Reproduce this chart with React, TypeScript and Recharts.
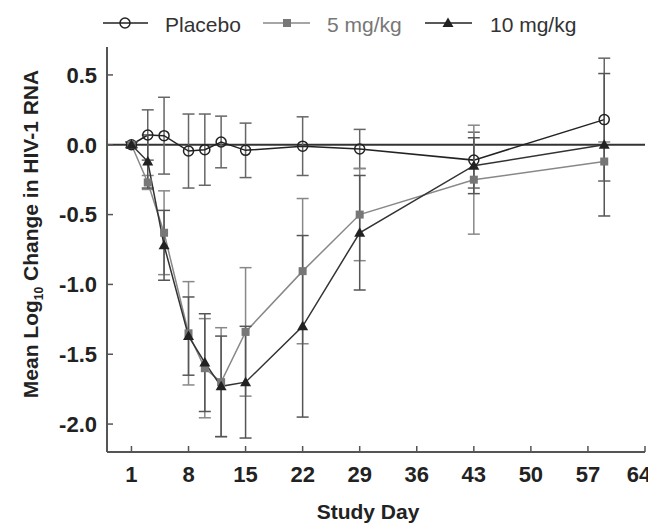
import React from 'react';
import { LineChart, Line, XAxis, YAxis, ErrorBar, ReferenceLine, Legend } from 'recharts';

const days = [1, 3, 5, 8, 10, 12, 15, 22, 29, 43, 59];
const placeboMean = [0.0, 0.07, 0.065, -0.045, -0.035, 0.02, -0.04, -0.01, -0.03, -0.11, 0.18];
const placeboErr = [0.02, 0.18, 0.275, 0.265, 0.255, 0.185, 0.195, 0.21, 0.14, 0.2, 0.44];
const mg5Mean = [0.0, -0.27, -0.63, -1.35, -1.6, -1.7, -1.34, -0.905, -0.5, -0.25, -0.12];
const mg5Err = [0.02, 0.05, 0.3, 0.37, 0.355, 0.39, 0.46, 0.52, 0.33, 0.39, 0.14];
const mg10Mean = [0.0, -0.12, -0.72, -1.37, -1.56, -1.73, -1.7, -1.3, -0.63, -0.15, 0.0];
const mg10Err = [0.02, 0.19, 0.25, 0.28, 0.35, 0.36, 0.4, 0.65, 0.41, 0.2, 0.51];
const xTicks = [1, 8, 15, 22, 29, 36, 43, 50, 57, 64];
const yTicks = [-2.0, -1.5, -1.0, -0.5, 0.0, 0.5];
const seriesNames = ['Placebo', '5 mg/kg', '10 mg/kg'];

const data = days.map((d, i) => ({
  day: d,
  p: placeboMean[i],
  pErr: placeboErr[i],
  m5: mg5Mean[i],
  m5Err: mg5Err[i],
  m10: mg10Mean[i],
  m10Err: mg10Err[i],
}));

const FONT = '"Liberation Sans", Arial, sans-serif';
const W = 648;
const H = 518;

const circleDot = (p: any) => (
  <circle key={`c-${p.index}`} cx={p.cx} cy={p.cy} r={5} fill="none" stroke="#222" strokeWidth={1.5} />
);
const squareDot = (p: any) => (
  <rect key={`s-${p.index}`} x={p.cx - 4} y={p.cy - 4} width={8} height={8} fill="#777" />
);
const triDot = (p: any) => (
  <polygon
    key={`t-${p.index}`}
    points={`${p.cx},${p.cy - 5.5} ${p.cx + 5.5},${p.cy + 4} ${p.cx - 5.5},${p.cy + 4}`}
    fill="#222"
  />
);

const renderLegend = () => (
  <div style={{ position: 'relative', height: 0 }}>
    <svg width={W} height={40} style={{ position: 'absolute', left: 0, top: 0, overflow: 'visible' }}>
      <g fontFamily={FONT} fontSize={21}>
        <line x1={95} x2={140} y1={15} y2={15} stroke="#222" strokeWidth={1.5} />
        <circle cx={117} cy={15} r={5} fill="none" stroke="#222" strokeWidth={1.5} />
        <text x={157} y={24} fill="#333">{seriesNames[0]}</text>
        <line x1={255} x2={302} y1={15} y2={15} stroke="#888" strokeWidth={1.5} />
        <rect x={275} y={11} width={8} height={8} fill="#777" />
        <text x={319} y={24} fill="#777">{seriesNames[1]}</text>
        <line x1={417} x2={464} y1={15} y2={15} stroke="#222" strokeWidth={1.5} />
        <polygon points="440,9.5 445.5,19 434.5,19" fill="#222" />
        <text x={482} y={24} fill="#333">{seriesNames[2]}</text>
      </g>
    </svg>
  </div>
);

const YLabel = () => (
  <text
    transform="rotate(-90, 30, 226)"
    x={30}
    y={226}
    textAnchor="middle"
    fontFamily={FONT}
    fontSize={21}
    fontWeight="bold"
    fill="#222"
  >
    Mean Log<tspan fontSize={12} dy={5}>10</tspan>
    <tspan dy={-5}> Change in HIV-1 RNA</tspan>
  </text>
);

const XLabel = (props: any) => {
  const vb = props.viewBox || { x: 99, y: 444, width: 538 };
  return (
    <text
      x={vb.x + vb.width / 2 - 8}
      y={vb.y + 67}
      textAnchor="middle"
      fontFamily={FONT}
      fontSize={21}
      fontWeight="bold"
      fill="#222"
    >
      Study Day
    </text>
  );
};

const XTick = (props: any) => {
  const { x, y, payload } = props;
  const isLast = payload.value === xTicks[xTicks.length - 1];
  return (
    <text
      x={isLast ? x - 6 : x}
      y={y}
      dy="0.71em"
      textAnchor="middle"
      fontFamily={FONT}
      fontSize={22}
      fontWeight="bold"
      fill="#222"
    >
      {payload.value}
    </text>
  );
};

const tickStyle = { fontFamily: FONT, fontSize: 22, fontWeight: 'bold', fill: '#222' } as any;
const frame = { stroke: '#555', strokeWidth: 2 };

export default function App() {
  return (
    <LineChart width={W} height={H} data={data} margin={{ top: 39, right: 11, left: 0, bottom: 0 }}>
      <XAxis
        dataKey="day"
        type="number"
        domain={[-2, 64]}
        ticks={xTicks}
        interval={0}
        height={74}
        tickSize={-6}
        tickMargin={20}
        tick={<XTick />}
        axisLine={frame}
        tickLine={{ stroke: '#555', strokeWidth: 1.5 }}
        label={<XLabel />}
      />
      <XAxis xAxisId="top" orientation="top" type="number" dataKey="day" domain={[-2, 64]} height={0} tick={false} tickLine={false} axisLine={frame} />
      <YAxis
        type="number"
        domain={[-2.2, 0.7]}
        ticks={yTicks}
        interval={0}
        width={99}
        tickSize={-6}
        tickMargin={16}
        tick={tickStyle}
        tickFormatter={(v: number) => v.toFixed(1)}
        axisLine={frame}
        tickLine={{ stroke: '#555', strokeWidth: 1.5 }}
        label={<YLabel />}
      />
      <YAxis yAxisId="right" orientation="right" type="number" domain={[-2.2, 0.7]} width={0} tick={false} tickLine={false} axisLine={frame} />
      <ReferenceLine y={0} stroke="#333" strokeWidth={2} />
      <Legend verticalAlign="top" align="left" content={renderLegend} wrapperStyle={{ top: 0, left: 0, width: W, height: 0 }} />
      <Line dataKey="p" stroke="#222" strokeWidth={1.5} dot={circleDot} isAnimationActive={false}>
        <ErrorBar dataKey="pErr" width={6} stroke="#666" strokeWidth={1.5} direction="y" isAnimationActive={false} />
      </Line>
      <Line dataKey="m5" stroke="#888" strokeWidth={1.5} dot={squareDot} isAnimationActive={false}>
        <ErrorBar dataKey="m5Err" width={6} stroke="#888" strokeWidth={1.5} direction="y" isAnimationActive={false} />
      </Line>
      <Line dataKey="m10" stroke="#333" strokeWidth={1.5} dot={triDot} isAnimationActive={false}>
        <ErrorBar dataKey="m10Err" width={6} stroke="#555" strokeWidth={1.5} direction="y" isAnimationActive={false} />
      </Line>
    </LineChart>
  );
}
